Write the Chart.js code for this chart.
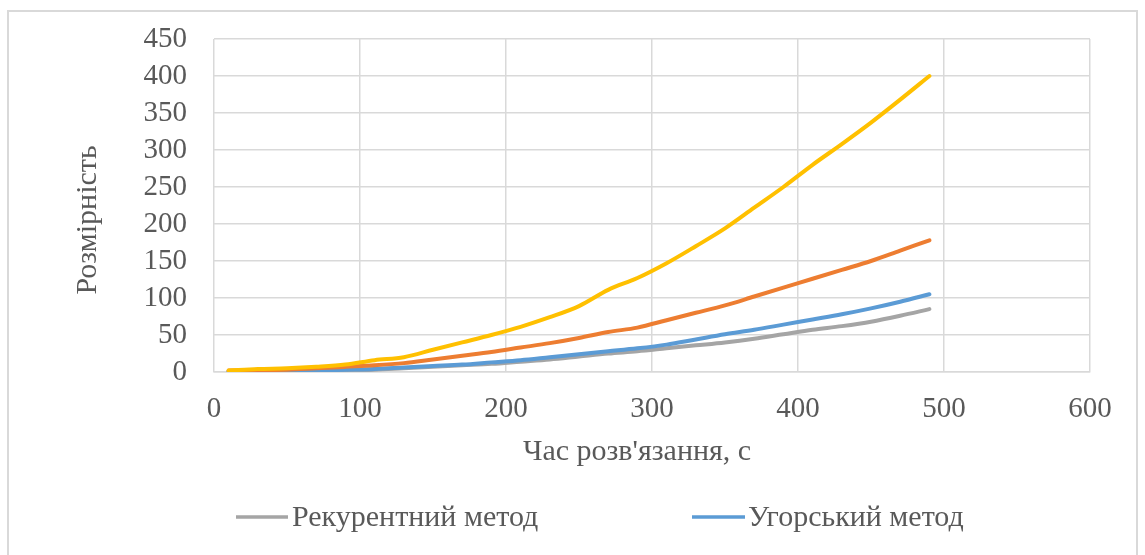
<!DOCTYPE html>
<html>
<head>
<meta charset="utf-8">
<script src="https://cdn.jsdelivr.net/npm/chart.js@4.4.1/dist/chart.umd.min.js"></script>
<style>
  html, body { margin: 0; padding: 0; background: #ffffff; }
  #wrap { width: 1145px; height: 555px; position: relative; }
</style>
</head>
<body>
<div id="wrap"><canvas id="chart" width="1145" height="555"></canvas></div>
<script>
// Problem size (x) and measured values for each method (y)
const sizes = [10, 30, 50, 70, 90, 110, 130, 150, 170, 190, 210, 230, 250, 270, 290, 310, 330, 350, 370, 390, 410, 430, 450, 470, 490];
const recurrentValues = [1, 1, 1, 1.5, 2, 3, 5, 7, 9, 11, 14, 17, 21, 25, 28, 32, 36, 40, 45, 51, 57, 62, 68, 76, 85];
const hungarianValues = [1, 1, 1.5, 2, 3, 4, 6, 8, 10, 13, 16, 20, 24, 28, 32, 37, 44, 51, 57, 64, 71, 78, 86, 95, 105];
const thirdValues = [2, 2.5, 3, 5, 7, 9, 12, 17, 22, 27, 33, 39, 46, 54, 60, 70, 80, 90, 102, 114, 126, 138, 150, 164, 178];
const fourthValues = [2, 4, 5, 7, 10, 16, 20, 30, 40, 50, 61, 74, 89, 111, 127, 147, 170, 194, 222, 250, 280, 308, 337, 368, 400];

const legendLabels = ['Рекурентний метод', 'Угорський метод'];
const xTicks = [0, 100, 200, 300, 400, 500, 600];
const yTicks = [0, 50, 100, 150, 200, 250, 300, 350, 400, 450];

const textColor = '#595959';
const gridColor = '#d9d9d9';
const serif = '"Liberation Serif", "Times New Roman", serif';

function toPoints(values) {
  return sizes.map((x, i) => ({ x: x, y: values[i] }));
}

function lineSet(label, values, color, order) {
  return {
    label: label,
    data: toPoints(values),
    borderColor: color,
    backgroundColor: color,
    borderWidth: 4,
    pointRadius: 0,
    cubicInterpolationMode: 'monotone',
    borderCapStyle: 'round',
    borderJoinStyle: 'round',
    fill: false,
    order: order
  };
}

// Outer frame around the whole chart
const framePlugin = {
  id: 'frame',
  beforeDraw(chart) {
    const ctx = chart.ctx;
    ctx.save();
    ctx.fillStyle = '#ffffff';
    ctx.fillRect(0, 0, chart.width, chart.height);
    ctx.strokeStyle = '#d9d9d9';
    ctx.lineWidth = 2;
    ctx.strokeRect(8, 11, 1129, 560);
    ctx.restore();
  }
};

// Axis titles and legend row
const textPlugin = {
  id: 'chartTexts',
  afterDraw(chart) {
    const ctx = chart.ctx;
    ctx.save();
    ctx.fillStyle = textColor;
    ctx.font = '30px ' + serif;
    ctx.textBaseline = 'middle';
    ctx.textAlign = 'center';
    ctx.fillText('Час розв\'язання, с', 637, 452);
    ctx.save();
    ctx.translate(88, 220);
    ctx.rotate(-Math.PI / 2);
    ctx.fillText('Розмірність', 0, 0);
    ctx.restore();

    const slots = [
      { lineFrom: 236, lineTo: 288, textX: 292 },
      { lineFrom: 692, lineTo: 745, textX: 748 }
    ];
    const y = 517;
    ctx.font = '30px ' + serif;
    ctx.textAlign = 'left';
    legendLabels.forEach((label, i) => {
      const ds = chart.data.datasets[i];
      const s = slots[i];
      ctx.strokeStyle = ds.borderColor;
      ctx.lineWidth = 3.5;
      ctx.lineCap = 'butt';
      ctx.beginPath();
      ctx.moveTo(s.lineFrom, y);
      ctx.lineTo(s.lineTo, y);
      ctx.stroke();
      ctx.fillText(label, s.textX, y + 1);
    });
    ctx.restore();
  }
};

new Chart(document.getElementById('chart'), {
  type: 'line',
  data: {
    datasets: [
      lineSet(legendLabels[0], recurrentValues, '#a5a5a5', 4),
      lineSet(legendLabels[1], hungarianValues, '#5b9bd5', 3),
      lineSet('', thirdValues, '#ed7d31', 2),
      lineSet('', fourthValues, '#ffc000', 1)
    ]
  },
  options: {
    responsive: false,
    animation: false,
    devicePixelRatio: 1,
    layout: { padding: { left: 71, top: 39, right: 55, bottom: 88 } },
    plugins: {
      legend: { display: false },
      tooltip: { enabled: false }
    },
    scales: {
      x: {
        type: 'linear',
        min: 0,
        max: 600,
        afterBuildTicks(scale) { scale.ticks = xTicks.map(v => ({ value: v })); },
        afterFit(scale) { scale.height = 95; scale.paddingLeft = 0; scale.paddingRight = 0; },
        grid: { color: gridColor, lineWidth: 1.5, drawTicks: false },
        border: { color: gridColor, width: 1.5 },
        ticks: { color: textColor, font: { family: serif, size: 29 }, padding: 20, maxRotation: 0, autoSkip: false },
        title: { display: false }
      },
      y: {
        type: 'linear',
        min: 0,
        max: 450,
        afterBuildTicks(scale) { scale.ticks = yTicks.map(v => ({ value: v })); },
        afterFit(scale) { scale.width = 214 - 71; scale.paddingTop = 0; scale.paddingBottom = 0; },
        grid: { color: gridColor, lineWidth: 1.5, drawTicks: false },
        border: { display: false },
        ticks: { color: textColor, font: { family: serif, size: 29 }, padding: 27, autoSkip: false },
        title: { display: false }
      }
    }
  },
  plugins: [framePlugin, textPlugin]
});
</script>
</body>
</html>
